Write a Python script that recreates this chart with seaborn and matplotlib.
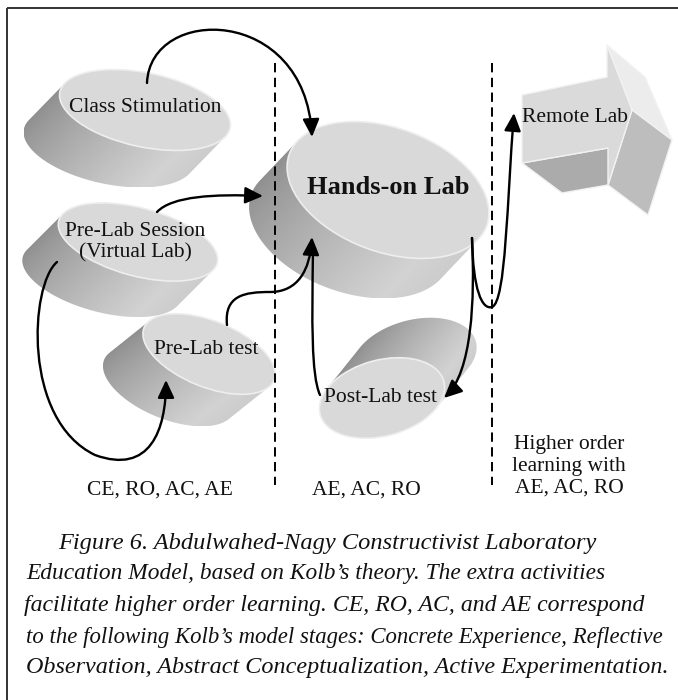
import numpy as np
import matplotlib
matplotlib.use('Agg')
import matplotlib.pyplot as plt
import seaborn as sns
from matplotlib.patches import Ellipse, Polygon, FancyArrowPatch
from matplotlib.path import Path

sns.set_theme(style='white')
plt.rcParams['font.family'] = ['Liberation Serif', 'DejaVu Serif']

# --- diagram content -------------------------------------------------------
node_labels = ['Class Stimulation', 'Pre-Lab Session\n(Virtual Lab)',
               'Pre-Lab test', 'Hands-on Lab', 'Post-Lab test']
remote_label = 'Remote Lab'
stage_labels = ['CE, RO, AC, AE', 'AE, AC, RO',
                'Higher order\nlearning with\nAE, AC, RO']
caption_lines = [
    'Figure 6. Abdulwahed-Nagy Constructivist Laboratory',
    'Education Model, based on Kolb\u2019s theory. The extra activities',
    'facilitate higher order learning. CE, RO, AC, and AE correspond',
    'to the following Kolb\u2019s model stages: Concrete Experience, Reflective',
    'Observation, Abstract Conceptualization, Active Experimentation.',
]

# layout (pixel units, y grows downward)
# centre x, centre y, semi-major, semi-minor, tilt (deg), extrusion dx, dy
cyl_geom = [
    (145, 110, 87, 37, 12, -36, 37),
    (138, 242, 82, 34, 15, -36, 36),
    (209, 354, 70, 33, 22, -40, 32),
    (388, 190, 105, 62, 20, -38, 40),
    (382, 398, 64, 38, -15, 32, -40),
]
label_pos = [(145, 108), (135, 242), (206, 350), (388, 188), (381, 398)]
stage_pos = [(160, 490), (366, 490), (569, 466)]
divider_x = [275, 492]
# caption line extents (left, right) and vertical centres
cap_left = [58, 26, 24, 26, 26]
cap_right = [597, 603, 646, 663, 666]
cap_y = [543, 574, 605, 637, 668]


def convex_hull(pts):
    pts = sorted(map(tuple, pts))

    def cross(o, a, b):
        return (a[0] - o[0]) * (b[1] - o[1]) - (a[1] - o[1]) * (b[0] - o[0])
    lower, upper = [], []
    for p in pts:
        while len(lower) >= 2 and cross(lower[-2], lower[-1], p) <= 0:
            lower.pop()
        lower.append(p)
    for p in reversed(pts):
        while len(upper) >= 2 and cross(upper[-2], upper[-1], p) <= 0:
            upper.pop()
        upper.append(p)
    return np.array(lower[:-1] + upper[:-1])


def ellipse_pts(cx, cy, a, b, ang):
    t = np.linspace(0, 2 * np.pi, 240)
    th = np.deg2rad(ang)
    x = cx + a * np.cos(t) * np.cos(th) - b * np.sin(t) * np.sin(th)
    y = cy + a * np.cos(t) * np.sin(th) + b * np.sin(t) * np.cos(th)
    return np.column_stack([x, y])


def draw_cylinder(ax, cx, cy, a, b, ang, dx, dy):
    top = ellipse_pts(cx, cy, a, b, ang)
    hull = convex_hull(np.vstack([top, top + [dx, dy]]))
    body = Polygon(hull, closed=True, facecolor='none', edgecolor='none')
    ax.add_patch(body)
    # cylinder-like shading across the extrusion direction
    n = np.array([dy, -dx], float)
    if n[0] < 0:
        n = -n
    n /= np.linalg.norm(n)
    x0, y0 = hull.min(axis=0)
    x1, y1 = hull.max(axis=0)
    X, Y = np.meshgrid(np.linspace(x0, x1, 200), np.linspace(y0, y1, 200))
    proj = X * n[0] + Y * n[1]
    hp = hull @ n
    u = np.clip((proj - hp.min()) / (hp.max() - hp.min()), 0, 1)
    g = 0.56 + 0.30 * u ** 0.8 - 0.06 * np.clip(u - 0.85, 0, 1) / 0.15
    im = ax.imshow(g, extent=(x0, x1, y1, y0), origin='upper', cmap='gray',
                   vmin=0, vmax=1, interpolation='bilinear', aspect='auto', zorder=1)
    im.set_clip_path(body)
    ax.add_patch(Ellipse((cx, cy), 2 * a, 2 * b, angle=ang, facecolor='#d9d9d9',
                         edgecolor='#eeeeee', lw=1.2, zorder=2))


def draw_arrow(ax, segs, head=True):
    verts = [segs[0][0]]
    codes = [Path.MOVETO]
    for s in segs:
        verts += s[1:]
        codes += [Path.CURVE4] * 3
    style = '-|>,head_length=0.9,head_width=0.42' if head else '-'
    ax.add_patch(FancyArrowPatch(path=Path(verts, codes), arrowstyle=style,
                                 mutation_scale=12, lw=1.7, color='black',
                                 shrinkA=0, shrinkB=0, zorder=6))


fig = plt.figure(figsize=(6.78, 7.0), dpi=100)
ax = fig.add_axes([0, 0, 1, 1])
ax.set_xlim(0, 678)
ax.set_ylim(700, 0)
ax.axis('off')

for geom in cyl_geom:
    draw_cylinder(ax, *geom)

# Remote Lab block arrow
shaft_bottom = [(522, 163), (608, 148), (648, 178), (562, 193)]
head_upper = [(607, 45), (645, 77), (672, 140), (632, 110)]
head_lower = [(632, 110), (672, 140), (648, 215), (608, 185)]
front = [(522, 95), (607, 77), (607, 45), (632, 110), (608, 185), (608, 148), (522, 163)]
for pts, fc in [(shaft_bottom, '#ababab'), (head_upper, '#ececec'),
                (head_lower, '#bdbdbd'), (front, '#dadada')]:
    ax.add_patch(Polygon(pts, closed=True, facecolor=fc, edgecolor='#f2f2f2',
                         lw=1.0, zorder=2))

# dashed stage dividers
ax.vlines(divider_x, 63, 485, colors='black', linestyles=(0, (4.8, 2.8)),
          lw=1.4, zorder=5)

# arrows
draw_arrow(ax, [[(147, 83), (150, 5), (305, 5), (312, 137)]])
draw_arrow(ax, [[(157, 212), (172, 196), (215, 194), (263, 196)]])
draw_arrow(ax, [[(57, 262), (30, 285), (22, 420), (95, 455)],
                [(95, 455), (150, 475), (166, 430), (166, 380)]])
draw_arrow(ax, [[(227, 325), (224, 295), (245, 292), (270, 292)],
                [(270, 292), (298, 292), (310, 270), (312, 237)]])
draw_arrow(ax, [[(320, 395), (311, 375), (312, 320), (313, 250)]], head=False)
draw_arrow(ax, [[(472, 238), (475, 300), (472, 372), (444, 398)]])
draw_arrow(ax, [[(472, 238), (473, 290), (482, 310), (492, 307)],
                [(492, 307), (506, 302), (507, 200), (514, 113)]])

# labels
for lab, (x, y) in zip(node_labels, label_pos):
    bold = lab == 'Hands-on Lab'
    ax.text(x, y, lab, ha='center', va='center', fontsize=19 if bold else 15.5,
            fontweight='bold' if bold else 'normal', color='#111111',
            linespacing=1.15, zorder=7)
ax.text(575, 118, remote_label, ha='center', va='center', fontsize=15.5,
        color='#111111', zorder=7)
for lab, (x, y) in zip(stage_labels, stage_pos):
    ax.text(x, y, lab, ha='center', va='center', fontsize=15.5, color='#111111',
            linespacing=1.2, zorder=7)

# frame
ax.plot([7, 678], [8, 8], color='#333333', lw=1.4, solid_capstyle='butt')
ax.plot([7, 7], [8, 700], color='#333333', lw=1.4, solid_capstyle='butt')

# caption, each line sized to span its width in the reference
texts = [ax.text(x, y, s, ha='left', va='center', fontsize=16, style='italic',
                 color='#111111') for s, x, y in zip(caption_lines, cap_left, cap_y)]
fig.canvas.draw()
r = fig.canvas.get_renderer()
for t, x0, x1 in zip(texts, cap_left, cap_right):
    w = t.get_window_extent(r).width
    t.set_fontsize(16 * (x1 - x0) / w)

fig.savefig('out.png', dpi=100)
